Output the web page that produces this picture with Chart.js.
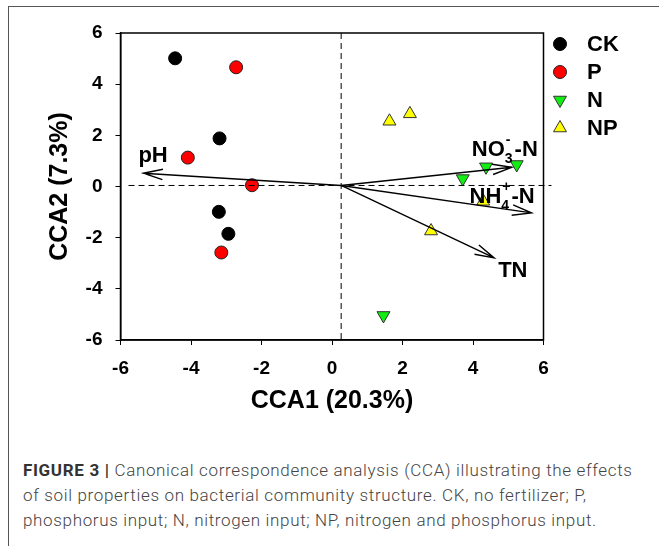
<!DOCTYPE html>
<html>
<head>
<meta charset="utf-8">
<script src="https://cdn.jsdelivr.net/npm/chart.js@4.4.1/dist/chart.umd.min.js"></script>
<style>
    html, body { margin: 0; padding: 0; background: #fff; }
    #wrap { position: relative; width: 659px; height: 546px; overflow: hidden; }
    #frame { position: absolute; left: 8px; top: 6px; width: 700px; height: 600px;
             border-top: 1px solid #555; border-left: 1px solid #555; }
    #chart { position: absolute; left: 0; top: 0; }
    #caption { position: absolute; left: 23px; top: 458px; font: 300 17px Roboto, "Liberation Sans", sans-serif;
               line-height: 25px; color: #444; white-space: nowrap; }
    #caption b { font-weight: 700; color: #333; }
</style>
</head>
<body>
<div id="wrap">
    <div id="frame"></div>
    <canvas id="chart" width="659" height="440"></canvas>
    <div id="caption"><span id="line1"><b>FIGURE 3 |</b> Canonical correspondence analysis (CCA) illustrating the effects</span><br>of soil properties on bacterial community structure. CK, no fertilizer; P,<br>phosphorus input; N, nitrogen input; NP, nitrogen and phosphorus input.</div>
</div>
<script>
// sample scores (CCA1, CCA2)
const ckX = [-4.45, -3.19, -3.21, -2.94];
const ckY = [5.01, 1.88, -0.99, -1.85];
const pX = [-2.72, -4.09, -2.27, -3.14];
const pY = [4.66, 1.13, 0.05, -2.58];
const nX = [4.37, 5.24, 3.71, 1.46];
const nY = [0.77, 0.86, 0.31, -5.04];
const npX = [1.63, 2.21, 4.29, 2.81];
const npY = [2.55, 2.84, -0.58, -1.74];

// environmental arrows
const envNames = ["pH", "NO3", "NH4", "TN"];
const envX = [-5.35, 5.10, 5.66, 4.60];
const envY = [0.52, 0.75, -1.03, -2.79];
const originX = 0.26;
const originY = 0.04;

const tickValues = [-6, -4, -2, 0, 2, 4, 6];

function pts(xs, ys) {
    return xs.map((x, i) => ({ x: x, y: ys[i] }));
}

// stretch caption so the first line spans the figure width
const line1 = document.getElementById("line1");
const cap = document.getElementById("caption");
const extra = (610 - line1.getBoundingClientRect().width) / line1.textContent.length;
cap.style.letterSpacing = extra.toFixed(2) + "px";

const boldFont = '"Liberation Sans", Arial, sans-serif';

// open arrowhead
function drawArrow(ctx, x0, y0, x1, y1) {
    const ang = Math.atan2(y1 - y0, x1 - x0);
    const len = 20;
    const spread = 15 * Math.PI / 180;
    ctx.beginPath();
    ctx.moveTo(x0, y0);
    ctx.lineTo(x1, y1);
    ctx.moveTo(x1 - len * Math.cos(ang - spread), y1 - len * Math.sin(ang - spread));
    ctx.lineTo(x1, y1);
    ctx.lineTo(x1 - len * Math.cos(ang + spread), y1 - len * Math.sin(ang + spread));
    ctx.stroke();
}

// text like NO3- -N with stacked sub/sup
function drawIon(ctx, x, y, main, sub, sup, tail) {
    ctx.font = "bold 22px " + boldFont;
    ctx.fillText(main, x, y);
    x += ctx.measureText(main).width;
    if (sub) {
        ctx.font = "bold 14px " + boldFont;
        ctx.fillText(sub, x, y + 7);
        ctx.fillText(sup, x + 1, y - 12);
        x += Math.max(ctx.measureText(sub).width, ctx.measureText(sup).width) + 2;
        ctx.font = "bold 22px " + boldFont;
        ctx.fillText(tail, x, y);
    }
}

const labelStyle = {
    pH: { dx: -5, dy: -11, main: "pH" },
    NO3: { dx: -40, dy: -11, main: "NO", sub: "3", sup: "-", tail: "-N" },
    NH4: { dx: -62, dy: -10, main: "NH", sub: "4", sup: "+", tail: "-N" },
    TN: { dx: 4, dy: 19, main: "TN" },
};

const overlayPlugin = {
    id: "overlay",
    afterDatasetsDraw(chart) {
        const ctx = chart.ctx;
        const area = chart.chartArea;
        const xs = chart.scales.x;
        const ys = chart.scales.y;
        const ox = xs.getPixelForValue(originX);
        const oy = ys.getPixelForValue(originY);

        ctx.save();
        // dashed reference lines
        ctx.strokeStyle = "#000";
        ctx.lineWidth = 1;
        ctx.setLineDash([6, 4]);
        ctx.beginPath();
        ctx.moveTo(ox, area.top);
        ctx.lineTo(ox, area.bottom);
        ctx.moveTo(area.left + 8, oy);
        ctx.lineTo(area.right + 8, oy);
        ctx.stroke();
        ctx.setLineDash([]);

        // arrows and labels
        ctx.lineWidth = 1.4;
        ctx.fillStyle = "#000";
        ctx.textBaseline = "alphabetic";
        ctx.textAlign = "left";
        envNames.forEach((name, i) => {
            const ex = xs.getPixelForValue(envX[i]);
            const ey = ys.getPixelForValue(envY[i]);
            drawArrow(ctx, ox, oy, ex, ey);
            const s = labelStyle[name];
            drawIon(ctx, ex + s.dx, ey + s.dy, s.main, s.sub, s.sup, s.tail);
        });

        // plot frame
        ctx.lineWidth = 1.5;
        ctx.strokeRect(area.left, area.top, area.right - area.left, area.bottom - area.top);

        // legend
        ctx.font = "bold 22px " + boldFont;
        ctx.textBaseline = "middle";
        chart.data.datasets.forEach((ds, i) => {
            const y = 44 + i * 28;
            ctx.fillStyle = ds.backgroundColor;
            ctx.strokeStyle = ds.borderColor;
            ctx.lineWidth = ds.borderWidth;
            Chart.helpers.drawPoint(ctx, {
                pointStyle: ds.pointStyle,
                rotation: ds.rotation || 0,
                radius: ds.pointRadius,
                borderWidth: ds.borderWidth
            }, 560, y);
            ctx.fillStyle = "#000";
            ctx.fillText(ds.label, 587, y + 1);
        });
        ctx.restore();
    }
};

const axisCommon = {
    type: "linear",
    min: -6,
    max: 6,
    grid: { display: true, drawOnChartArea: false, drawTicks: true, tickLength: 5, color: "#000" },
    border: { display: true, color: "#000", width: 1.5 },
    afterBuildTicks: (axis) => { axis.ticks = tickValues.map(v => ({ value: v })); },
};

new Chart(document.getElementById("chart"), {
    type: "scatter",
    data: {
        datasets: [
            { label: "CK", data: pts(ckX, ckY), pointStyle: "circle", pointRadius: 6.5,
              backgroundColor: "#000", borderColor: "#000", borderWidth: 1 },
            { label: "P", data: pts(pX, pY), pointStyle: "circle", pointRadius: 6.5,
              backgroundColor: "#ff0000", borderColor: "#222", borderWidth: 1 },
            { label: "N", data: pts(nX, nY), pointStyle: "triangle", rotation: 180, pointRadius: 7.5,
              backgroundColor: "#11ee11", borderColor: "#333", borderWidth: 1 },
            { label: "NP", data: pts(npX, npY), pointStyle: "triangle", pointRadius: 7.5,
              backgroundColor: "#ffff00", borderColor: "#333", borderWidth: 1 },
        ],
    },
    options: {
        responsive: false,
        animation: false,
        layout: { padding: { left: 8, top: 33, right: 115.5, bottom: 24 } },
        plugins: {
            legend: { display: false },
            tooltip: { enabled: false },
        },
        elements: { point: { hoverRadius: 7 } },
        scales: {
            x: Object.assign({}, axisCommon, {
                position: "bottom",
                ticks: { color: "#000", padding: 12, font: { family: boldFont, size: 19, weight: "bold" } },
                title: { display: true, text: "CCA1 (20.3%)", color: "#000", padding: { top: 0, bottom: 0 },
                         font: { family: boldFont, size: 25, weight: "bold" } },
                afterFit: (scale) => { scale.height = 76; },
            }),
            y: Object.assign({}, axisCommon, {
                position: "left",
                ticks: { color: "#000", padding: 13, font: { family: boldFont, size: 19, weight: "bold" } },
                title: { display: true, text: "CCA2 (7.3%)", color: "#000", padding: { top: 37, bottom: 0 },
                         font: { family: boldFont, size: 25, weight: "bold" } },
                afterFit: (scale) => { scale.width = 112.5; },
            }),
        },
    },
    plugins: [overlayPlugin],
});
</script>
</body>
</html>
